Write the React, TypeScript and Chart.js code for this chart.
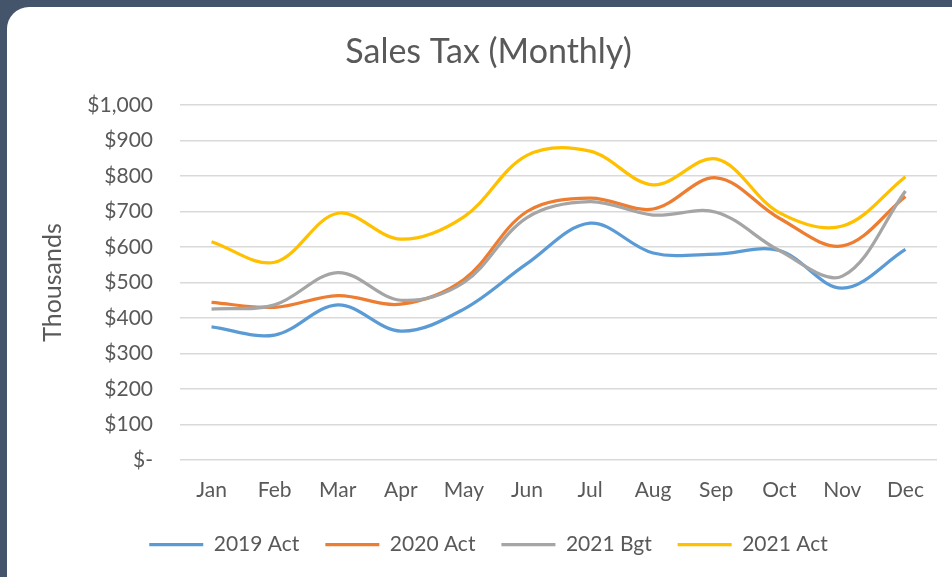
import React, { useEffect, useRef } from "react";
import { Chart, registerables } from "chart.js";

Chart.register(...registerables);

const months = ["Jan", "Feb", "Mar", "Apr", "May", "Jun", "Jul", "Aug", "Sep", "Oct", "Nov", "Dec"];
const act2019 = [375, 352, 437, 363, 425, 553, 667, 583, 580, 590, 484, 593];
const act2020 = [444, 430, 463, 439, 508, 700, 738, 707, 795, 681, 603, 742];
const bgt2021 = [425, 437, 528, 450, 500, 683, 728, 690, 698, 590, 518, 758];
const act2021 = [615, 557, 695, 622, 685, 858, 870, 775, 848, 697, 659, 798];
const seriesNames = ["2019 Act", "2020 Act", "2021 Bgt", "2021 Act"];
const seriesColors = ["#5B9BD5", "#ED7D31", "#A5A5A5", "#FFC000"];

const FONT = "Lato";
const TEXT = "#595959";

export default function App() {
  const ref = useRef<HTMLCanvasElement | null>(null);

  useEffect(() => {
    if (!ref.current) return;
    const values = [act2019, act2020, bgt2021, act2021];
    const chart = new Chart(ref.current, {
      type: "line",
      data: {
        labels: months,
        datasets: values.map((v, i) => ({
          label: seriesNames[i],
          data: v,
          borderColor: seriesColors[i],
          backgroundColor: seriesColors[i],
          borderWidth: 3.25,
          pointRadius: 0,
          tension: 0.35,
          fill: false,
          order: 3 - i,
        })),
      },
      options: {
        responsive: false,
        animation: false,
        devicePixelRatio: 1,
        layout: { padding: { left: 40, right: 15, top: 0, bottom: 12 } },
        plugins: {
          tooltip: { enabled: false },
          title: {
            display: true,
            text: "Sales Tax (Monthly)",
            color: TEXT,
            font: { family: FONT, size: 34, weight: "normal", lineHeight: 1.2 },
            padding: { top: 31.6, bottom: 32.6 },
          },
          legend: {
            position: "bottom",
            labels: {
              usePointStyle: true,
              pointStyle: "line",
              pointStyleWidth: 54,
              boxHeight: 4,
              padding: 26,
              color: TEXT,
              font: { family: FONT, size: 21 },
              sort: (a: any, b: any) => a.datasetIndex - b.datasetIndex,
            },
          },
        },
        scales: {
          x: {
            offset: true,
            grid: { display: false, drawTicks: false },
            border: { display: false },
            ticks: {
              color: TEXT,
              font: { family: FONT, size: 21 },
              padding: 18,
              maxRotation: 0,
              autoSkip: false,
            },
            afterFit: (s: any) => {
              s.height = 48;
            },
          },
          y: {
            min: 0,
            max: 1000,
            grid: { color: "#D9D9D9", lineWidth: 1.5, drawTicks: false },
            border: { display: false },
            ticks: {
              stepSize: 100,
              color: TEXT,
              font: { family: FONT, size: 21 },
              padding: 27,
              callback: (v: any) => (Number(v) === 0 ? "$-" : "$" + Number(v).toLocaleString("en-US")),
            },
            title: {
              display: true,
              text: "Thousands",
              color: TEXT,
              font: { family: FONT, size: 25, lineHeight: 1 },
              padding: { top: 0, bottom: 0 },
            },
            afterFit: (s: any) => {
              s.width = 140;
            },
          },
        },
      },
    });
    return () => chart.destroy();
  }, []);

  return (
    <div
      style={{
        position: "fixed",
        left: 0,
        top: 0,
        width: 952,
        height: 577,
        background: "#44546A",
        overflow: "hidden",
      }}
    >
      <div
        style={{
          position: "absolute",
          left: 7,
          top: 7,
          width: 990,
          height: 610,
          borderRadius: 22,
          background: "#FFFFFF",
        }}
      />
      <canvas
        ref={ref}
        width={952}
        height={577}
        style={{ position: "absolute", left: 0, top: 0, width: 952, height: 577 }}
      />
    </div>
  );
}
